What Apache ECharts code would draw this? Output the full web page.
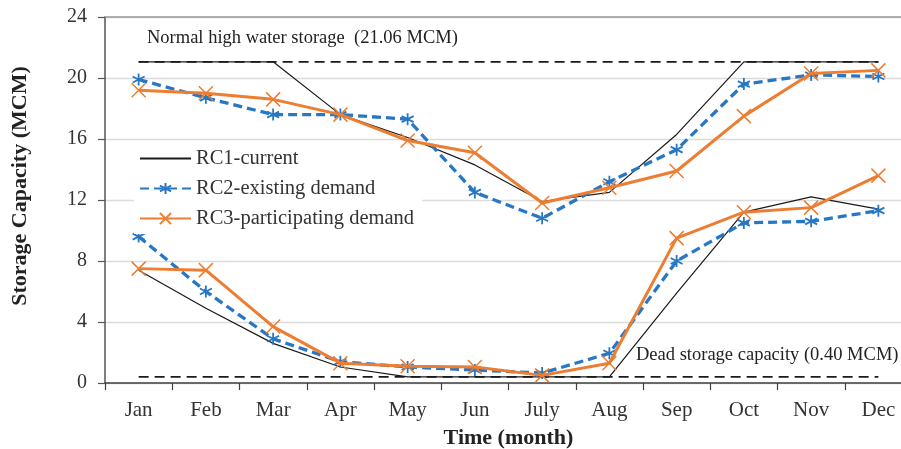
<!DOCTYPE html>
<html>
<head>
<meta charset="utf-8">
<script src="https://cdn.jsdelivr.net/npm/echarts@6/dist/echarts.min.js"></script>
<style>
  html, body { margin: 0; padding: 0; background: #fff; }
  #chart-panel { width: 901px; height: 449px; }
</style>
</head>
<body>
<div id="chart-panel"></div>
<script>
// months on the x axis
const months = ["Jan", "Feb", "Mar", "Apr", "May", "Jun", "July", "Aug", "Sep", "Oct", "Nov", "Dec"]
const yTicks = [0, 4, 8, 12, 16, 20, 24]

// upper / lower rule curves (MCM)
const rc1Upper = [21.06, 21.06, 21.06, 17.6, 16.1, 14.3, 11.9, 12.5, 16.3, 21.06, 21.06, 21.06]
const rc1Lower = [7.4, 4.9, 2.6, 1.05, 0.4, 0.4, 0.4, 0.4, 5.9, 11.2, 12.2, 11.4]
const rc2Upper = [19.9, 18.7, 17.6, 17.6, 17.3, 12.5, 10.8, 13.2, 15.3, 19.6, 20.2, 20.1]
const rc2Lower = [9.6, 6.0, 2.9, 1.4, 1.05, 0.85, 0.65, 1.95, 8.0, 10.5, 10.6, 11.3]
const rc3Upper = [19.2, 19.0, 18.6, 17.6, 15.9, 15.1, 11.8, 12.8, 13.9, 17.5, 20.3, 20.5]
const rc3Lower = [7.5, 7.4, 3.7, 1.3, 1.1, 1.05, 0.5, 1.3, 9.5, 11.2, 11.5, 13.6]

const highWater = months.map(() => 21.06)
const deadStorage = months.map(() => 0.4)

const serif = "Liberation Serif"
const black = "#1a1a1a"
const blue = "#2877c5"
const orange = "#ed7d31"
const star = "path://M0,-1L0,1M-0.87,-0.5L0.87,0.5M-0.87,0.5L0.87,-0.5"
const cross = "path://M-1,-1L1,1M-1,1L1,-1"

const chart = echarts.init(document.getElementById("chart-panel"), null, { renderer: "canvas" })

const refLine = (data) => ({
  type: "line",
  data: data,
  symbol: "none",
  silent: true,
  lineStyle: { color: black, width: 1.6, type: [10, 6] },
  z: 1
})
const rc1 = (data) => ({
  name: "RC1-current",
  type: "line",
  data: data,
  symbol: "none",
  lineStyle: { color: black, width: 1.2 },
  itemStyle: { color: black },
  z: 2
})
const rc2 = (data) => ({
  name: "RC2-existing demand",
  type: "line",
  data: data,
  symbol: star,
  symbolSize: 12,
  lineStyle: { color: blue, width: 3.3, type: [9, 5] },
  itemStyle: { color: blue, borderColor: blue, borderWidth: 1.8 },
  z: 3
})
const rc3 = (data) => ({
  name: "RC3-participating demand",
  type: "line",
  data: data,
  symbol: cross,
  symbolSize: 14,
  lineStyle: { color: orange, width: 3 },
  itemStyle: { color: orange, borderColor: orange, borderWidth: 1.5 },
  z: 4
})

const options = {
  animation: false,
  textStyle: { fontFamily: serif },
  grid: { left: 105, top: 17, width: 807, height: 366, outerBoundsMode: "none", containLabel: false },
  legend: {
    data: [
      { name: "RC1-current", itemStyle: { opacity: 0 } },
      "RC2-existing demand",
      "RC3-participating demand"
    ],
    orient: "vertical",
    left: 134,
    top: 143,
    itemWidth: 51,
    itemHeight: 14,
    itemGap: 9,
    padding: [5, 8, 5, 5],
    backgroundColor: "#fff",
    textStyle: { fontFamily: serif, fontSize: 20.5, color: "#333", lineHeight: 18 }
  },
  xAxis: [
    {
      type: "category",
      data: months,
      boundaryGap: true,
      name: "Time (month)",
      nameLocation: "middle",
      nameGap: 44,
      nameTextStyle: { fontFamily: serif, fontSize: 22, fontWeight: "bold", color: "#222" },
      axisLine: { lineStyle: { color: "#404040", width: 1.5 } },
      axisTick: { show: true, length: 7, lineStyle: { color: "#404040", width: 1.2 } },
      axisLabel: { margin: 17, fontFamily: serif, fontSize: 21, color: "#333" },
      splitLine: { show: false }
    },
    {
      type: "category",
      data: months,
      position: "top",
      axisLine: { lineStyle: { color: "#999", width: 1.5 } },
      axisTick: { show: false },
      axisLabel: { show: false }
    }
  ],
  yAxis: {
    type: "value",
    min: 0,
    max: 24,
    interval: 4,
    name: "Storage Capacity (MCM)",
    nameLocation: "middle",
    nameGap: 74,
    nameTextStyle: { fontFamily: serif, fontSize: 22, fontWeight: "bold", color: "#222", padding: [0, 0, 0, 28] },
    axisLine: { show: true, lineStyle: { color: "#555", width: 1.5 } },
    axisTick: { show: true, length: 7, lineStyle: { color: "#555", width: 1.2 } },
    axisLabel: { margin: 18, fontFamily: serif, fontSize: 20, color: "#333" },
    splitLine: { show: true, lineStyle: { color: "#dcdcdc", width: 1.3 } }
  },
  graphic: [
    {
      type: "text",
      left: 147,
      top: 29,
      style: { text: "Normal high water storage  (21.06 MCM)", font: "18.5px " + serif, fill: "#222" }
    },
    {
      type: "text",
      left: 636,
      top: 346,
      style: { text: "Dead storage capacity (0.40 MCM)", font: "18.5px " + serif, fill: "#222" }
    }
  ],
  series: [
    refLine(highWater),
    refLine(deadStorage),
    rc1(rc1Upper),
    rc1(rc1Lower),
    rc2(rc2Upper),
    rc2(rc2Lower),
    rc3(rc3Upper),
    rc3(rc3Lower)
  ]
}
chart.setOption(options)
</script>
</body>
</html>
